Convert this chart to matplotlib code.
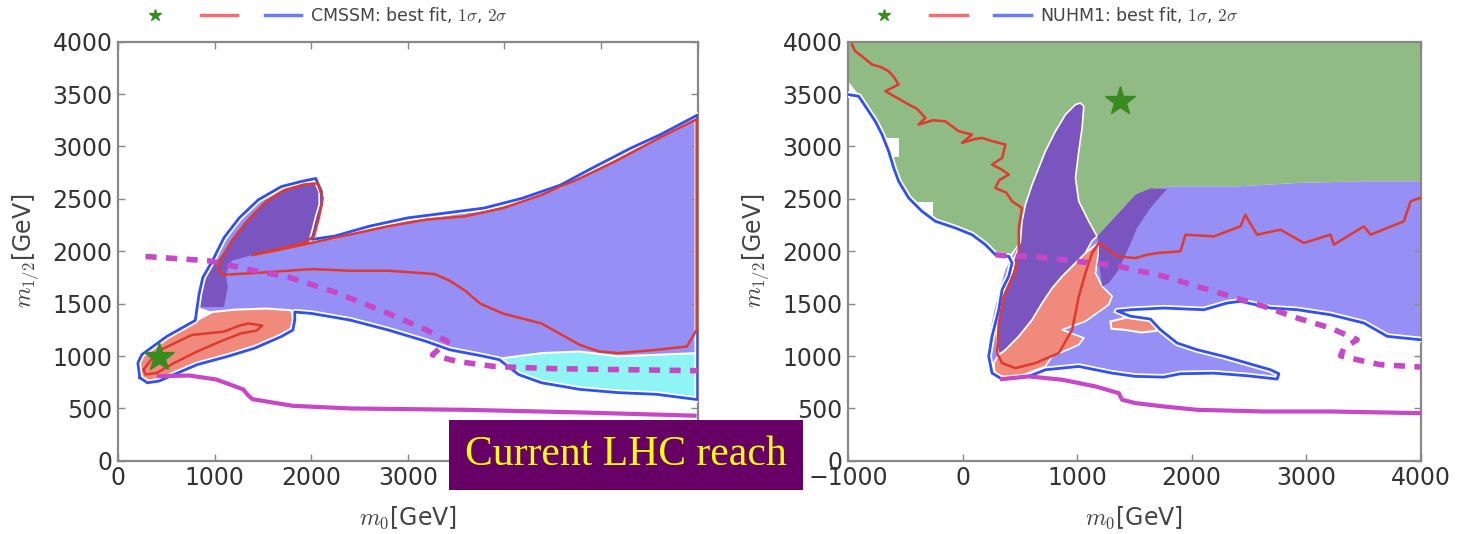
import matplotlib
matplotlib.use("Agg")
import matplotlib.pyplot as plt
import matplotlib.patheffects as pe
from matplotlib.lines import Line2D
from matplotlib.patches import Rectangle

plt.rcParams["mathtext.fontset"] = "cm"

# colours
BLUE_FILL = "#9690f6"
PURPLE = "#7b55bf"
SALMON = "#ef8a7c"
CYAN = "#8ef4f4"
GREEN = "#90bb84"
BLUE_LINE = "#3050f0"
RED_LINE = "#e03a30"
MAGENTA = "#c648c6"
STAR = "#3a8a22"

# ---------------- CMSSM (left) ----------------
cm_best = (420, 990)

cm_fan_x = [820, 840, 879, 978, 1097, 1255, 1453, 1691, 1889, 2047, 2107, 2107, 2067, 2028, 2008,
            2245, 2602, 2998, 3394, 3790, 4186, 4582, 4899, 5300, 5615, 6000,
            6000, 5176, 4780, 4384, 3988, 3790, 3434, 3196, 2800, 2404, 2008, 1770, 1533, 1216, 978]
cm_fan_y = [1468, 1594, 1751, 1909, 2129, 2318, 2491, 2617, 2664, 2695, 2569, 2443, 2318, 2176, 2113,
            2145, 2239, 2318, 2365, 2412, 2506, 2632, 2789, 2980, 3113, 3300,
            1028, 997, 1043, 1028, 981, 997, 1060, 1138, 1248, 1343, 1406, 1437, 1453, 1443, 1421]

cm_cyan_x = [3948, 4384, 4780, 5176, 6000, 6000, 5572, 5176, 4780, 4384, 4146]
cm_cyan_y = [975, 1028, 1043, 997, 1028, 585, 635, 651, 682, 745, 824]

cm_ear_x = [840, 859, 939, 1057, 1216, 1414, 1691, 1929, 2067, 2107, 2067, 2028, 1968, 1691,
            1414, 1176, 1117, 1137, 1097]
cm_ear_y = [1468, 1594, 1814, 1940, 2160, 2380, 2575, 2632, 2638, 2506, 2317, 2144, 2097, 2028,
            1971, 1909, 1783, 1657, 1468]

cm_tail_x = [246, 503, 820, 978, 1216, 1533, 1790, 1830, 1810, 1691, 1414, 1137, 820, 622, 424, 305, 226, 206]
cm_tail_y = [1013, 1186, 1343, 1421, 1443, 1453, 1437, 1343, 1248, 1186, 1075, 997, 918, 840, 761, 745, 793, 934]

cm_out_x = [226, 206, 246, 503, 800, 820, 840, 879, 978, 1097, 1255, 1453, 1691, 1889, 2047, 2107,
            2107, 2067, 2028, 2008, 2245, 2602, 2998, 3394, 3790, 4186, 4582, 4899, 5300, 5615, 6000,
            6000, 5968, 5572, 5176, 4780, 4384, 4146, 3948, 3790, 3434, 3196, 2800, 2404, 2008, 1830,
            1830, 1810, 1691, 1414, 1137, 820, 622, 424, 305, 226]
cm_out_y = [793, 934, 1013, 1186, 1340, 1468, 1594, 1751, 1909, 2129, 2318, 2491, 2617, 2664, 2695, 2569,
            2443, 2318, 2176, 2113, 2145, 2239, 2318, 2365, 2412, 2506, 2632, 2789, 2980, 3113, 3300,
            585, 588, 635, 651, 682, 745, 824, 965, 997, 1060, 1138, 1248, 1343, 1406, 1420,
            1343, 1248, 1186, 1075, 997, 918, 840, 761, 745, 793]

cm_red_x = [1394, 1691, 1929, 2028, 2079, 2119, 2067, 1929, 1730, 1533, 1335, 1176, 1057, 1038, 1097,
            1414, 2008, 2404, 2800, 3275, 3433, 3592, 3750, 3988, 4384, 4780, 4978, 5176, 5572, 5889,
            5948, 5990, 5990, 5600, 5136, 4780, 4384, 3988, 3592, 3196, 2800, 2404, 2008, 1612, 1394]
cm_red_y = [1965, 2028, 2081, 2144, 2317, 2506, 2648, 2638, 2585, 2475, 2286, 2097, 1909, 1814, 1776,
            1792, 1830, 1814, 1814, 1783, 1720, 1625, 1500, 1405, 1311, 1107, 1044, 1028, 1059, 1091,
            1185, 1250, 3260, 3080, 2852, 2695, 2538, 2412, 2333, 2302, 2239, 2160, 2081, 2003, 1965]

cm_red_tail_x = [265, 408, 764, 1097, 1255, 1354, 1493, 1434, 1275, 1057, 820, 582, 404, 285, 265]
cm_red_tail_y = [871, 1044, 1201, 1233, 1290, 1311, 1290, 1242, 1217, 1138, 1044, 934, 840, 824, 871]

cm_dash_x = [285, 939, 1335, 1770, 2245, 2800, 3196, 3414, 3255, 3500, 3900, 4500, 6000]
cm_dash_y = [1950, 1909, 1830, 1751, 1610, 1406, 1248, 1138, 1012, 950, 900, 880, 860]

cm_reach_x = [424, 740, 1018, 1295, 1354, 1394, 1810, 2403, 3592, 4780, 5968]
cm_reach_y = [808, 814, 776, 682, 619, 588, 525, 500, 487, 462, 431]

# ---------------- NUHM1 (right) ----------------
nu_best = (1378, 3431)

nu_green_x = [-1000, 4000, 4000, 3505, 2922, 2427, 1815, 1640, 1509, 1174, 1101, 1014, 985, 1014, 1043,
              1058, 1028, 985, 897, 810, 722, 664, 606, 548, 518, 504, 402, 285, 198, 81, -64, -239,
              -356, -472, -560, -603, -647, -705, -764, -822, -909, -1000]
nu_green_y = [4000, 4000, 2668, 2668, 2652, 2620, 2620, 2588, 2540, 2142, 2286, 2477, 2699, 2954, 3177,
              3384, 3415, 3400, 3304, 3145, 2954, 2795, 2636, 2445, 2286, 2095, 1951, 1990, 2080, 2175,
              2240, 2300, 2395, 2525, 2685, 2810, 2970, 3130, 3255, 3350, 3495, 3620]

# white holes along the green edge
nu_hole1_x = [-700, -560, -560, -600, -600, -680]
nu_hole1_y = [3080, 3080, 2900, 2900, 2800, 2800]
nu_hole2_x = [-420, -260, -260, -420]
nu_hole2_y = [2470, 2470, 2350, 2350]

nu_blue_x = [1174, 1509, 1640, 1815, 2427, 2922, 3505, 4000, 4000, 3709, 3505, 3213, 2922, 2689, 2427,
             2310, 2106, 1756, 1465, 1300, 1465, 1640, 1727, 1873, 2048, 2281, 2485, 2689, 2762, 2747,
             2485, 2194, 1902, 1756, 1509, 1305, 1014, 722, 490, 315, 256, 227, 271, 315, 373, 431, 504]
nu_blue_y = [2142, 2540, 2588, 2620, 2620, 2652, 2668, 2668, 1156, 1188, 1315, 1394, 1442, 1458, 1522,
             1506, 1442, 1458, 1442, 1420, 1380, 1353, 1251, 1124, 1060, 997, 933, 869, 831, 780,
             812, 837, 831, 799, 806, 837, 901, 869, 822, 790, 869, 1156, 1410, 1601, 1824, 1951, 2095]

nu_purple_x = [1028, 1058, 1043, 1014, 985, 1014, 1101, 1174, 1130, 1072, 985, 868, 781, 693, 606, 489,
               373, 315, 300, 300, 344, 431, 475, 504, 518, 548, 606, 664, 722, 810, 897, 985]
nu_purple_y = [3415, 3384, 3177, 2954, 2699, 2477, 2286, 2142, 2100, 1983, 1888, 1760, 1649, 1506, 1347,
               1188, 1060, 1012, 1100, 1251, 1569, 1888, 2000, 2095, 2286, 2445, 2636, 2795, 2954, 3145,
               3304, 3400]

nu_strip_x = [1174, 1350, 1509, 1640, 1785, 1640, 1523, 1480, 1363, 1276, 1218, 1189, 1189]
nu_strip_y = [2142, 2350, 2540, 2600, 2595, 2413, 2222, 2110, 1824, 1697, 1665, 1900, 2079]

nu_salmon_x = [285, 490, 722, 781, 1014, 1058, 868, 1072, 1276, 1305, 1218, 1160, 1189, 1189, 1145,
               1072, 985, 868, 781, 693, 606, 489, 373, 315, 271]
nu_salmon_y = [806, 806, 901, 997, 1108, 1172, 1251, 1331, 1490, 1570, 1665, 1792, 2015, 2079, 2047,
               1983, 1888, 1760, 1649, 1506, 1347, 1188, 1060, 1012, 933]

nu_blob_x = [1290, 1420, 1560, 1700, 1690, 1560, 1420, 1300]
nu_blob_y = [1330, 1365, 1360, 1330, 1240, 1225, 1250, 1260]

nu_out_x = [-1000, -909, -822, -764, -705, -647, -603, -560, -472, -356, -239, -64, 81, 198, 285, 402,
            431, 402, 344, 315, 256, 227, 256, 344, 577, 722, 1014, 1305, 1509, 1756, 1902, 2194, 2485,
            2747, 2762, 2689, 2485, 2281, 2048, 1873, 1727, 1640, 1465, 1350, 1465, 1756, 2106, 2310,
            2427, 2689, 2922, 3213, 3505, 3709, 3994, 4000]
nu_out_y = [3495, 3479, 3336, 3240, 3113, 2954, 2795, 2668, 2508, 2381, 2286, 2222, 2158, 2063, 1967, 1951,
            1888, 1761, 1633, 1442, 1188, 997, 837, 780, 806, 869, 901, 837, 806, 799, 831, 837, 812,
            780, 831, 869, 933, 997, 1060, 1124, 1251, 1353, 1380, 1430, 1442, 1458, 1442, 1506,
            1522, 1458, 1442, 1394, 1315, 1188, 1156, 1156]

nu_red_x = [-968, -939, -880, -793, -720, -647, -600, -560, -676, -600, -472, -400, -327, -385, -260,
            -152, -90, -35, 81, -6, 100, 169, 260, 373, 344, 256, 340, 402, 320, 285, 380, 431, 518,
            490, 490, 475, 460, 358, 315, 300, 344, 460, 635, 839, 956, 1014, 1072, 1130, 1189, 1350,
            1509, 1611, 1698, 1902, 1946, 2194, 2427, 2470, 2500, 2572, 2776, 2980, 3213, 3243, 3505,
            3563, 3854, 3913, 3994]
nu_red_y = [3973, 3909, 3860, 3782, 3760, 3718, 3660, 3591, 3527, 3480, 3400, 3360, 3272, 3209, 3250,
            3240, 3190, 3145, 3113, 3034, 3070, 3081, 3050, 3018, 2890, 2827, 2780, 2731, 2680, 2604,
            2560, 2477, 2413, 2222, 1967, 1951, 1824, 1569, 1315, 1028, 933, 885, 933, 1028, 1251, 1569,
            1792, 1983, 2079, 1950, 1935, 1967, 1983, 1999, 2158, 2142, 2238, 2349, 2286, 2158, 2206,
            2079, 2158, 2063, 2238, 2158, 2286, 2477, 2508]

nu_dash_x = [285, 431, 606, 868, 1130, 1363, 1494, 1756, 2048, 2339, 2631, 2922, 3213, 3446, 3330,
             3301, 3446, 3650, 4000]
nu_dash_y = [1967, 1951, 1951, 1920, 1888, 1856, 1824, 1761, 1665, 1570, 1474, 1363, 1267, 1156, 1076,
             1003, 965, 917, 895]

nu_reach_x = [344, 577, 868, 1160, 1363, 1392, 1509, 1756, 2048, 2631, 3213, 4000]
nu_reach_y = [780, 806, 774, 710, 646, 583, 551, 519, 487, 471, 471, 455]

y_ticks = [0, 500, 1000, 1500, 2000, 2500, 3000, 3500, 4000]
cm_x_ticks = [0, 1000, 2000, 3000, 4000, 5000, 6000]
nu_x_ticks = [-1000, 0, 1000, 2000, 3000, 4000]

halo = [pe.Stroke(linewidth=4.5, foreground="white"), pe.Normal()]


def style_axes(ax, xlim, xticks, model, leg_x):
    ax.set_xlim(*xlim)
    ax.set_ylim(0, 4000)
    ax.set_xticks(xticks)
    ax.set_yticks(y_ticks)
    ax.tick_params(direction="in", top=True, right=True, length=5, width=1,
                   color="#888888", labelsize=17, labelcolor="#333333", pad=4)
    for s in ax.spines.values():
        s.set_color("#888888")
        s.set_linewidth(1.6)
    ax.set_xlabel("$m_0$[GeV]", fontsize=17, color="#444444", labelpad=10)
    ax.set_ylabel("$m_{1/2}$[GeV]", fontsize=17, color="#444444", labelpad=8)
    handles = [Line2D([], [], ls="none", marker="*", ms=9, color=STAR),
               Line2D([], [], color="#f07070", lw=2.5),
               Line2D([], [], color="#6a7cf5", lw=2.5)]
    labels = ["", "", model + ": best fit, $1\\sigma$, $2\\sigma$"]
    ax.legend(handles, labels, ncol=3, loc="lower left", bbox_to_anchor=(leg_x, 1.04),
              frameon=False, borderpad=0, borderaxespad=0, handlelength=2.1,
              handletextpad=0.5, columnspacing=1.1, fontsize=12.5,
              labelcolor="#444444")


fig = plt.figure(figsize=(14.6, 5.34), dpi=100)
ax1 = fig.add_axes([0.0808, 0.137, 0.397, 0.785])
ax2 = fig.add_axes([0.581, 0.137, 0.392, 0.785])

# left panel
ax1.fill(cm_fan_x, cm_fan_y, color=BLUE_FILL, lw=0, zorder=1)
ax1.fill(cm_cyan_x, cm_cyan_y, facecolor=CYAN, edgecolor="white", lw=1.5, zorder=2)
ax1.fill(cm_ear_x, cm_ear_y, color=PURPLE, lw=0, zorder=2)
ax1.fill(cm_tail_x, cm_tail_y, facecolor=SALMON, edgecolor="white", lw=1.5, zorder=2)
ax1.plot(cm_out_x, cm_out_y, color=BLUE_LINE, lw=2, zorder=4, path_effects=halo)
ax1.plot(cm_red_x, cm_red_y, color=RED_LINE, lw=1.8, zorder=5)
ax1.plot(cm_red_tail_x, cm_red_tail_y, color=RED_LINE, lw=1.8, zorder=5)
ax1.plot(cm_dash_x, cm_dash_y, color=MAGENTA, lw=4, ls=(0, (2.0, 1.7)), zorder=6)
ax1.plot(cm_reach_x, cm_reach_y, color=MAGENTA, lw=3, zorder=6)
ax1.plot(*cm_best, marker="*", ms=22, color=STAR, zorder=7)
style_axes(ax1, (0, 6000), cm_x_ticks, "CMSSM", 0.032)

# right panel
ax2.fill(nu_blue_x, nu_blue_y, color=BLUE_FILL, lw=0, zorder=1)
ax2.fill(nu_green_x, nu_green_y, color=GREEN, lw=0, zorder=2)
for hx, hy in [(nu_hole1_x, nu_hole1_y), (nu_hole2_x, nu_hole2_y)]:
    ax2.fill(hx, hy, color="white", lw=0, zorder=2)
ax2.fill(nu_salmon_x, nu_salmon_y, facecolor=SALMON, edgecolor="white", lw=1.2, zorder=3)
ax2.fill(nu_blob_x, nu_blob_y, facecolor=SALMON, edgecolor="white", lw=1.5, zorder=3)
ax2.fill(nu_purple_x, nu_purple_y, facecolor=PURPLE, edgecolor="white", lw=1.2, zorder=3)
ax2.fill(nu_strip_x, nu_strip_y, color=PURPLE, lw=0, zorder=3)
ax2.plot(nu_out_x, nu_out_y, color=BLUE_LINE, lw=2, zorder=4, path_effects=halo)
ax2.plot(nu_red_x, nu_red_y, color=RED_LINE, lw=1.8, zorder=5)
ax2.plot(nu_dash_x, nu_dash_y, color=MAGENTA, lw=4, ls=(0, (2.0, 1.7)), zorder=6)
ax2.plot(nu_reach_x, nu_reach_y, color=MAGENTA, lw=3, zorder=6)
ax2.plot(*nu_best, marker="*", ms=22, color=STAR, zorder=7)
style_axes(ax2, (-1000, 4000), nu_x_ticks, "NUHM1", 0.031)

# overlay label
fig.patches.append(Rectangle((0.3075, 0.0824), 0.2425, 0.131, transform=fig.transFigure,
                             facecolor="#660066", edgecolor="none", zorder=10))
fig.text(0.4288, 0.148, "Current LHC reach", ha="center", va="center", color="#ffff00",
         fontsize=30, family="Liberation Serif", zorder=11)

fig.savefig("out.png", dpi=100)
